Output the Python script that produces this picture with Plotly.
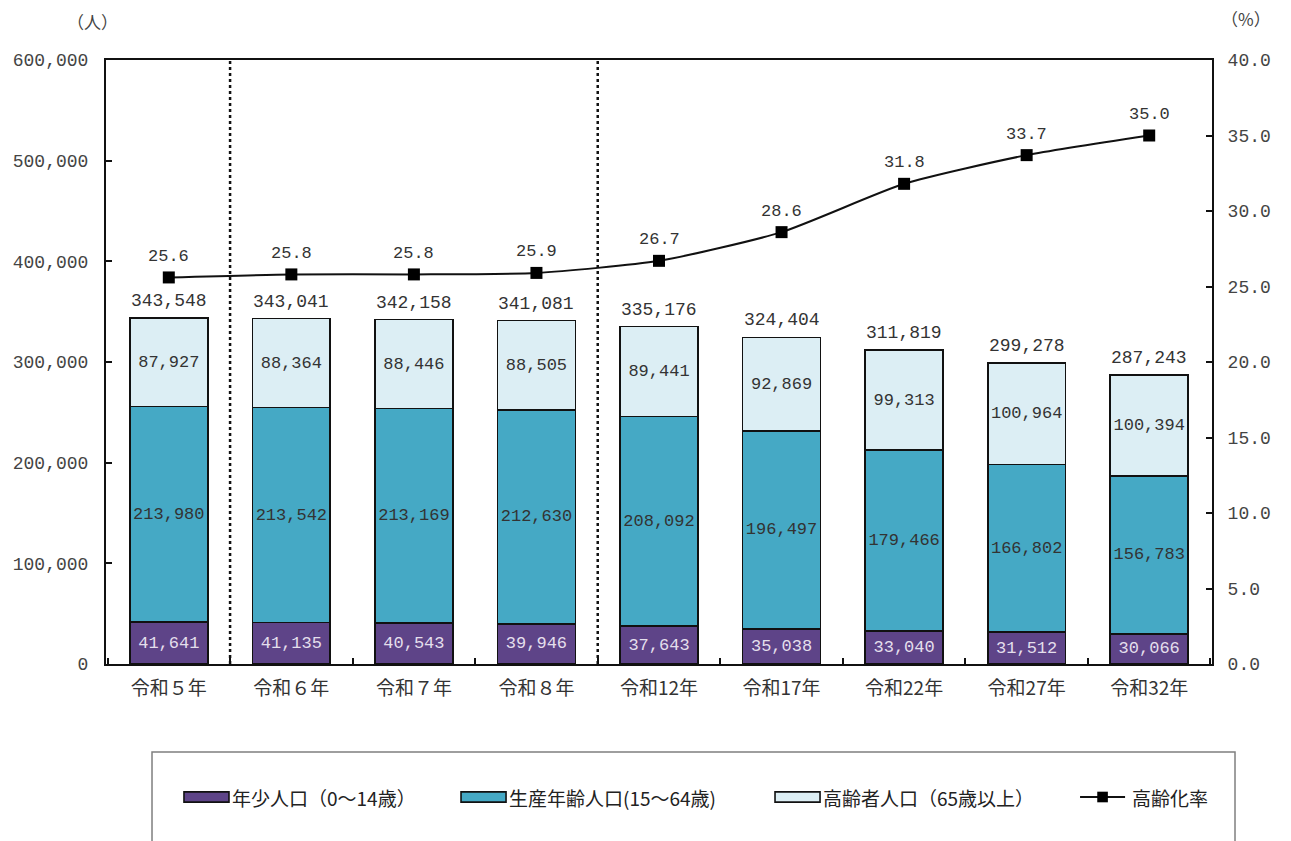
import plotly.graph_objects as go

# 年次区分
years = ["令和５年", "令和６年", "令和７年", "令和８年", "令和12年",
         "令和17年", "令和22年", "令和27年", "令和32年"]

# 年齢3区分別人口（人）
young = [41641, 41135, 40543, 39946, 37643, 35038, 33040, 31512, 30066]
working = [213980, 213542, 213169, 212630, 208092, 196497, 179466, 166802, 156783]
elderly = [87927, 88364, 88446, 88505, 89441, 92869, 99313, 100964, 100394]
totals = [343548, 343041, 342158, 341081, 335176, 324404, 311819, 299278, 287243]

# 高齢化率（%）
aging_rate = [25.6, 25.8, 25.8, 25.9, 26.7, 28.6, 31.8, 33.7, 35.0]

series_names = ["年少人口（0～14歳）", "生産年齢人口(15～64歳)", "高齢者人口（65歳以上）", "高齢化率"]

C_YOUNG = "#5E4488"
C_WORK = "#45A9C5"
C_OLD = "#DCEEF4"
FONT = "Liberation Mono, DejaVu Sans Mono, Noto Sans CJK JP, monospace"
JP_FONT = "Noto Sans CJK JP, sans-serif"

fig = go.Figure()

def fmt(v):
    return f"{v:,}"

for vals, color, name, tcolor in [
    (young, C_YOUNG, series_names[0], "#E4DFEC"),
    (working, C_WORK, series_names[1], "#333333"),
    (elderly, C_OLD, series_names[2], "#333333"),
]:
    fig.add_trace(go.Bar(
        x=years, y=vals, name=name,
        marker=dict(color=color, line=dict(color="#111111", width=1.6)),
        text=[fmt(v) for v in vals], textposition="inside",
        insidetextanchor="middle", textangle=0, constraintext="none",
        textfont=dict(family=FONT, size=17, color=tcolor),
        showlegend=False,
    ))

fig.add_trace(go.Scatter(
    x=years, y=aging_rate, name=series_names[3], yaxis="y2",
    mode="lines+markers",
    line=dict(color="#111111", width=2, shape="spline", smoothing=0.6),
    marker=dict(symbol="square", size=12, color="#000000"),
    showlegend=False,
))

# 合計人口ラベル
for x, t in zip(years, totals):
    fig.add_annotation(x=x, y=t, text=fmt(t), showarrow=False, yshift=17,
                       font=dict(family=FONT, size=18, color="#333333"))

# 高齢化率ラベル
for x, r in zip(years, aging_rate):
    fig.add_annotation(x=x, y=r, yref="y2", text=f"{r:.1f}", showarrow=False,
                       yshift=21, font=dict(family=FONT, size=17, color="#333333"))

# 区切りの点線（実績と推計の境）
for xb in [0.5, 3.5]:
    fig.add_shape(type="line", xref="x", yref="paper", x0=xb, x1=xb, y0=0, y1=1,
                  line=dict(color="#111111", width=2.5, dash="dot"))

# 凡例枠と凡例項目
fig.add_shape(type="rect", xref="paper", yref="paper", x0=0.0416, x1=1.0208,
              y0=-0.32, y1=-0.1457, line=dict(color="#7F7F7F", width=1.5),
              fillcolor="rgba(0,0,0,0)")
ly = -0.2202
sw = 0.0407
legend_items = [
    (0.0705, C_YOUNG, series_names[0]),
    (0.3210, C_WORK, series_names[1]),
    (0.6049, C_OLD, series_names[2]),
]
for x0, color, name in legend_items:
    fig.add_shape(type="rect", xref="paper", yref="paper", x0=x0, x1=x0 + sw,
                  y0=ly - 0.0085, y1=ly + 0.0085,
                  fillcolor=color, line=dict(color="#111111", width=1.6))
    fig.add_annotation(xref="paper", yref="paper", x=x0 + sw + 0.001, y=ly, text=name,
                       xanchor="left", yanchor="middle", showarrow=False,
                       font=dict(family=JP_FONT, size=19, color="#222222"))
lx0, lx1 = 0.8807, 0.9214
fig.add_shape(type="line", xref="paper", yref="paper", x0=lx0, x1=lx1, y0=ly, y1=ly,
              line=dict(color="#111111", width=2))
fig.add_shape(type="rect", xref="paper", yref="paper",
              x0=(lx0 + lx1) / 2 - 0.0048, x1=(lx0 + lx1) / 2 + 0.0048,
              y0=ly - 0.0088, y1=ly + 0.0088, fillcolor="#000000",
              line=dict(color="#000000", width=0))
fig.add_annotation(xref="paper", yref="paper", x=0.9259, y=ly, text=series_names[3],
                   xanchor="left", yanchor="middle", showarrow=False,
                   font=dict(family=JP_FONT, size=19, color="#222222"))

# 単位
fig.add_annotation(xref="paper", yref="paper", x=-0.012, y=1.063, text="（人）",
                   showarrow=False, xanchor="center", yanchor="middle",
                   font=dict(family=JP_FONT, size=17, color="#444444"))
fig.add_annotation(xref="paper", yref="paper", x=1.0307, y=1.0695, text="（%）",
                   showarrow=False, xanchor="center", yanchor="middle",
                   font=dict(family=JP_FONT, size=17, color="#444444"))

fig.update_layout(
    width=1291, height=841,
    margin=dict(l=106, r=79, t=60, b=177),
    barmode="stack", bargap=0.365,
    plot_bgcolor="white", paper_bgcolor="white",
    font=dict(family=FONT, color="#333333"),
    xaxis=dict(
        type="category", showline=True, linecolor="#111111", linewidth=2,
        mirror=True, ticks="inside", tickson="boundaries", ticklen=6,
        tickcolor="#111111", tickwidth=1.5, showgrid=False, ticklabelstandoff=6,
        tickfont=dict(family=JP_FONT, size=19, color="#333333"),
    ),
    yaxis=dict(
        range=[0, 600000], dtick=100000, tickformat=",", showgrid=False,
        showline=True, linecolor="#111111", linewidth=2, ticks="inside",
        ticklen=6, tickcolor="#111111", tickwidth=1.5, zeroline=False,
        ticklabelstandoff=12,
        tickfont=dict(family=FONT, size=18, color="#444444"),
    ),
    yaxis2=dict(
        range=[0, 40], dtick=5, tickformat=".1f", overlaying="y", side="right",
        showgrid=False, showline=True, linecolor="#111111", linewidth=2,
        ticks="inside", ticklen=6, tickcolor="#111111", tickwidth=1.5,
        zeroline=False, ticklabelstandoff=10,
        tickfont=dict(family=FONT, size=18, color="#444444"),
    ),
)

fig.write_html("out.html")
